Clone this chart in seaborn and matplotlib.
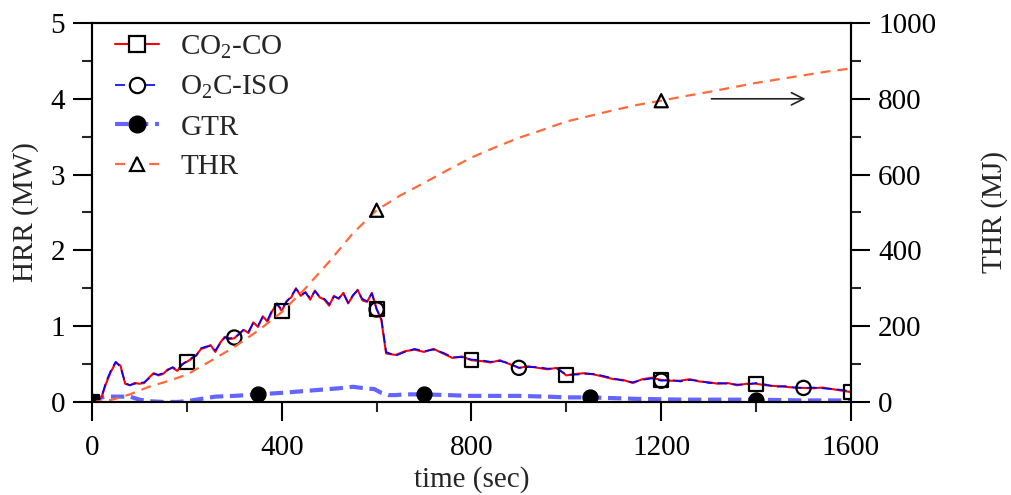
import matplotlib
matplotlib.use("Agg")
import matplotlib.pyplot as plt
import numpy as np
import pandas as pd
import seaborn as sns
from matplotlib.lines import Line2D
from matplotlib.ticker import MultipleLocator

# ---------------- data ----------------
time_hrr = list(range(0, 621, 10)) + list(range(640, 1601, 20))

co2_co = [0.00, 0.00, 0.06, 0.25, 0.40, 0.52, 0.48, 0.24, 0.22, 0.25,
          0.24, 0.25, 0.32, 0.38, 0.35, 0.37, 0.43, 0.45, 0.41, 0.50,
          0.53, 0.57, 0.62, 0.70, 0.72, 0.75, 0.66, 0.78, 0.86, 0.83,
          0.84, 0.90, 0.95, 0.91, 1.05, 0.99, 1.13, 1.06, 1.20, 1.30,
          1.20, 1.33, 1.38, 1.50, 1.40, 1.45, 1.35, 1.47, 1.38, 1.35,
          1.27, 1.40, 1.36, 1.44, 1.30, 1.40, 1.48, 1.34, 1.32, 1.44,
          1.23, 1.08, 0.64,
          0.62, 0.67, 0.69, 0.66, 0.70, 0.64, 0.58, 0.60, 0.55,
          0.54, 0.52, 0.55, 0.50, 0.45, 0.47, 0.45, 0.43, 0.45, 0.35,
          0.37, 0.38, 0.36, 0.33, 0.30, 0.29, 0.25, 0.30, 0.32, 0.29,
          0.28, 0.28, 0.30, 0.27, 0.26, 0.24, 0.25, 0.22, 0.24, 0.24,
          0.22, 0.21, 0.20, 0.19, 0.185, 0.18, 0.19, 0.17, 0.15, 0.13]

o2c_iso = [0.00, 0.00, 0.07, 0.27, 0.42, 0.53, 0.46, 0.25, 0.22, 0.24,
           0.25, 0.26, 0.31, 0.37, 0.36, 0.38, 0.42, 0.46, 0.42, 0.49,
           0.54, 0.58, 0.61, 0.71, 0.73, 0.74, 0.68, 0.77, 0.85, 0.84,
           0.85, 0.89, 0.96, 0.93, 1.04, 1.01, 1.12, 1.08, 1.22, 1.29,
           1.22, 1.32, 1.40, 1.49, 1.42, 1.44, 1.37, 1.46, 1.39, 1.36,
           1.29, 1.39, 1.37, 1.43, 1.31, 1.41, 1.47, 1.36, 1.33, 1.43,
           1.22, 1.10, 0.66,
           0.61, 0.66, 0.70, 0.67, 0.69, 0.65, 0.59, 0.59, 0.56,
           0.55, 0.53, 0.54, 0.51, 0.45, 0.46, 0.46, 0.44, 0.44, 0.36,
           0.36, 0.37, 0.37, 0.34, 0.31, 0.28, 0.26, 0.29, 0.31, 0.28,
           0.29, 0.27, 0.29, 0.28, 0.25, 0.25, 0.24, 0.23, 0.23, 0.25,
           0.23, 0.20, 0.21, 0.19, 0.185, 0.19, 0.18, 0.17, 0.16, 0.14]

time_gtr = [0, 20, 30, 60, 80, 100, 120, 150, 180, 200, 230, 260, 300, 350,
            400, 440, 480, 520, 550, 575, 595, 610, 625, 640, 660, 700, 750,
            800, 850, 900, 960, 1000, 1050, 1100, 1150, 1200, 1250, 1300,
            1350, 1400, 1450, 1500, 1550, 1600]
gtr = [0.0, 0.06, 0.07, 0.07, 0.07, 0.03, 0.01, 0.0, 0.0, 0.01, 0.04, 0.07,
       0.08, 0.10, 0.12, 0.14, 0.16, 0.18, 0.20, 0.18, 0.17, 0.12, 0.09, 0.09,
       0.10, 0.10, 0.09, 0.08, 0.08, 0.08, 0.07, 0.06, 0.06, 0.05, 0.04,
       0.035, 0.03, 0.03, 0.03, 0.03, 0.025, 0.02, 0.02, 0.02]

time_thr = [0, 40, 80, 120, 160, 200, 250, 300, 350, 400, 450, 500, 550, 600,
            650, 700, 750, 800, 850, 900, 950, 1000, 1050, 1100, 1150, 1200,
            1250, 1300, 1350, 1400, 1450, 1500, 1550, 1600]
thr = [0, 5, 20, 40, 55, 72, 108, 145, 188, 237, 300, 370, 445, 506,
       545, 578, 612, 645, 672, 697, 718, 740, 755, 770, 784, 795,
       807, 818, 830, 842, 852, 862, 872, 880]

co2_marker_times = [0, 200, 400, 600, 800, 1000, 1200, 1400, 1600]
o2c_marker_times = [0, 300, 600, 900, 1200, 1500]
gtr_marker_times = [0, 350, 700, 1050, 1400]
thr_marker_times = [0, 600, 1200]

labels = [r"CO$_\mathrm{2}$-CO", r"O$_\mathrm{2}$C-ISO", "GTR", "THR"]
x_ticks = [0, 400, 800, 1200, 1600]
hrr_ticks = [0, 1, 2, 3, 4, 5]
thr_ticks = [0, 200, 400, 600, 800, 1000]

# ---------------- style ----------------
sns.set_theme(style="ticks")
plt.rcParams["font.family"] = ["Liberation Serif", "DejaVu Serif"]
plt.rcParams["mathtext.fontset"] = "custom"
plt.rcParams["mathtext.rm"] = "Liberation Serif"
plt.rcParams["mathtext.it"] = "Liberation Serif:italic"
FS = 21

c_red = "#ff0000"
c_blue = "#0000ff"
c_gtr = "#6464ff"
c_thr = "#ff6a3c"

df_hrr = pd.DataFrame({"t": time_hrr, "co2": co2_co, "o2c": o2c_iso})
df_gtr = pd.DataFrame({"t": time_gtr, "gtr": gtr})
df_thr = pd.DataFrame({"t": time_thr, "thr": thr})

fig = plt.figure(figsize=(10.11, 4.95), dpi=100)
ax = fig.add_axes([0.091, 0.188, 0.7507, 0.7655])
ax2 = ax.twinx()

# lines
sns.lineplot(data=df_gtr, x="t", y="gtr", ax=ax, color=c_gtr, lw=3.0,
             linestyle=(0, (3.2, 1.6)), estimator=None, zorder=2)
sns.lineplot(data=df_hrr, x="t", y="co2", ax=ax, color=c_red, lw=1.5,
             estimator=None, zorder=3)
sns.lineplot(data=df_hrr, x="t", y="o2c", ax=ax, color=c_blue, lw=1.2,
             linestyle=(0, (6, 3)), estimator=None, zorder=4)
sns.lineplot(data=df_thr, x="t", y="thr", ax=ax2, color=c_thr, lw=1.6,
             linestyle=(0, (4.5, 3.2)), estimator=None, zorder=2)

# markers
m_co2 = df_hrr[df_hrr["t"].isin(co2_marker_times)]
m_o2c = df_hrr[df_hrr["t"].isin(o2c_marker_times)]
m_gtr = df_gtr[df_gtr["t"].isin(gtr_marker_times)]
m_thr = df_thr[df_thr["t"].isin(thr_marker_times)]
sns.scatterplot(data=m_co2, x="t", y="co2", ax=ax, marker="s", s=100,
                facecolor="none", edgecolor="black", linewidth=1.6, zorder=6)
sns.scatterplot(data=m_o2c, x="t", y="o2c", ax=ax, marker="o", s=105,
                facecolor="none", edgecolor="black", linewidth=1.6, zorder=6)
sns.scatterplot(data=m_gtr, x="t", y="gtr", ax=ax, marker="o", s=115,
                color="black", edgecolor="black", linewidth=1, zorder=6)
sns.scatterplot(data=m_thr, x="t", y="thr", ax=ax2, marker="^", s=90,
                facecolor="none", edgecolor="black", linewidth=1.6, zorder=6)

# axes limits / ticks
ax.set_xlim(0, 1600)
ax.set_ylim(0, 5)
ax2.set_ylim(0, 1000)
ax.set_xticks(x_ticks)
ax.set_yticks(hrr_ticks)
ax2.set_yticks(thr_ticks)
ax.xaxis.set_minor_locator(MultipleLocator(200))
ax.yaxis.set_minor_locator(MultipleLocator(0.5))
ax2.yaxis.set_minor_locator(MultipleLocator(100))

for a in (ax, ax2):
    a.tick_params(which="major", direction="out", length=13.5, width=1.5,
                  labelsize=FS, colors="black", pad=6)
    a.tick_params(which="minor", direction="out", length=7, width=1.5)
    for s in a.spines.values():
        s.set_linewidth(1.5)
        s.set_color("black")
        s.set_visible(True)
ax.tick_params(axis="x", which="major", pad=10)

ax.set_xlabel("time (sec)", fontsize=FS, labelpad=4)
ax.set_ylabel("HRR (MW)", fontsize=FS, labelpad=8)
ax2.set_ylabel("THR (MJ)", fontsize=FS, labelpad=32)

# arrow pointing toward right axis
ax.annotate("", xy=(1510, 4.0), xytext=(1300, 4.0),
            arrowprops=dict(arrowstyle="->", color="#222222", lw=1.2,
                            mutation_scale=22))

# legend
handles = [
    Line2D([], [], color=c_red, lw=1.5, marker="s", markersize=11,
           markerfacecolor="white", markeredgecolor="black", markeredgewidth=1.6),
    Line2D([], [], color=c_blue, lw=1.2, linestyle=(0, (6, 3)), marker="o",
           markersize=11, markerfacecolor="white", markeredgecolor="black",
           markeredgewidth=1.6),
    Line2D([], [], color=c_gtr, lw=3.0, linestyle=(0, (3.2, 1.6)), marker="o",
           markersize=12, markerfacecolor="black", markeredgecolor="black"),
    Line2D([], [], color=c_thr, lw=1.6, linestyle=(0, (4.5, 3.2)), marker="^",
           markersize=10, markerfacecolor="white", markeredgecolor="black",
           markeredgewidth=1.6),
]
ax2.legend(handles, labels, loc="upper left", bbox_to_anchor=(0.03, 0.972),
           frameon=False, fontsize=FS, handlelength=1.5, handletextpad=0.75,
           labelspacing=0.45, borderpad=0, borderaxespad=0)

fig.savefig("out.png", dpi=100)
